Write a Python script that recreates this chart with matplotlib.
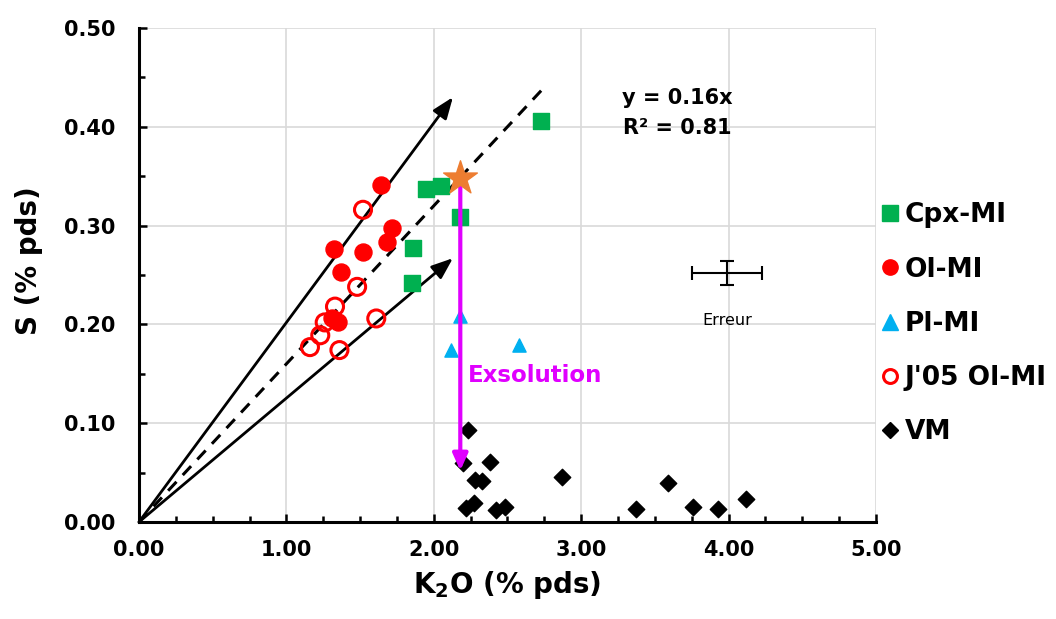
import numpy as np
import matplotlib.pyplot as plt
from matplotlib.ticker import MultipleLocator

plt.rcParams['font.family'] = ['DejaVu Sans']
plt.rcParams['font.weight'] = 'bold'

# données
cpx_k2o = [2.73, 1.95, 2.05, 2.18, 1.86, 1.85]
cpx_s = [0.406, 0.337, 0.340, 0.309, 0.277, 0.242]

ol_k2o = [1.64, 1.32, 1.52, 1.72, 1.68, 1.37, 1.35, 1.31]
ol_s = [0.341, 0.276, 0.273, 0.298, 0.283, 0.253, 0.202, 0.206]

pl_k2o = [2.18, 2.12, 2.58]
pl_s = [0.208, 0.174, 0.179]

j05_k2o = [1.52, 1.48, 1.61, 1.16, 1.36, 1.33, 1.26, 1.23]
j05_s = [0.316, 0.238, 0.206, 0.177, 0.174, 0.218, 0.202, 0.189]

vm_k2o = [2.23, 2.20, 2.38, 2.28, 2.33, 2.87, 2.22, 2.27, 2.42, 2.48, 3.37, 3.59, 3.76, 3.93, 4.12]
vm_s = [0.093, 0.060, 0.061, 0.043, 0.041, 0.046, 0.014, 0.019, 0.012, 0.015, 0.013, 0.039, 0.015, 0.013, 0.023]

star = (2.18, 0.348)
pente = 0.16
fleche_haut = (2.13, 0.430)
fleche_bas = (2.13, 0.267)
exsol_fin = 0.052
erreur = (3.99, 0.252, 0.24, 0.012)

fig = plt.figure(figsize=(10.56, 6.19), dpi=100)
ax = fig.add_axes([0.1316, 0.1567, 0.6979, 0.7981])

# tendance et flèches
xs = np.array([0, 2.73])
ax.plot(xs, pente * xs, ls=(0, (4, 3)), color='black', lw=2.2, zorder=2)
for p in [fleche_haut, fleche_bas]:
    ax.annotate('', xy=p, xytext=(0, 0),
                arrowprops=dict(arrowstyle='-|>,head_length=1.3,head_width=0.5', color='black', lw=2,
                                shrinkA=0, shrinkB=0), zorder=2)

ax.scatter(cpx_k2o, cpx_s, marker='s', s=120, color='#00B050', zorder=3)
ax.scatter(ol_k2o, ol_s, marker='o', s=150, color='#FF0000', zorder=3)
ax.scatter(pl_k2o, pl_s, marker='^', s=90, color='#00B0F0', zorder=3)
ax.scatter(j05_k2o, j05_s, marker='o', s=150, facecolor='none', edgecolor='#FF0000', linewidths=2.2, zorder=3)
ax.scatter(vm_k2o, vm_s, marker='D', s=70, color='black', zorder=3)

# exsolution
ax.annotate('', xy=(star[0], exsol_fin), xytext=star,
            arrowprops=dict(arrowstyle='-|>,head_length=1.0,head_width=0.45', color='#E000FF', lw=3,
                            shrinkA=0, shrinkB=0), zorder=4)
ax.scatter([star[0]], [star[1]], marker='*', s=650, color='#ED7D31', zorder=5)
ax.text(2.23, 0.148, 'Exsolution', color='#E000FF', fontsize=16.5, fontweight='bold', va='center')

# barre d'erreur
ax.errorbar([erreur[0]], [erreur[1]], xerr=erreur[2], yerr=erreur[3], color='black', lw=1.5,
            capsize=5, capthick=1.5, zorder=3)
ax.text(erreur[0], 0.204, 'Erreur', fontsize=11.5, fontweight='normal', ha='center', va='center')

ax.text(3.65, 0.429, 'y = 0.16x', fontsize=15, fontweight='bold', ha='center', va='center')
ax.text(3.65, 0.399, 'R² = 0.81', fontsize=15, fontweight='bold', ha='center', va='center')

ax.set_xlim(0, 5)
ax.set_ylim(0, 0.5)
ax.xaxis.set_major_locator(MultipleLocator(1))
ax.xaxis.set_minor_locator(MultipleLocator(0.25))
ax.yaxis.set_major_locator(MultipleLocator(0.1))
ax.yaxis.set_minor_locator(MultipleLocator(0.05))
ax.xaxis.set_major_formatter(lambda v, p: f'{v:.2f}')
ax.yaxis.set_major_formatter(lambda v, p: f'{v:.2f}')
ax.tick_params(which='both', direction='in', width=1.8)
ax.tick_params(which='major', length=6, labelsize=15)
ax.tick_params(axis='x', which='major', pad=13)
ax.tick_params(axis='y', which='major', pad=17)
ax.tick_params(which='minor', length=4)
for l in ax.get_xticklabels() + ax.get_yticklabels():
    l.set_fontweight('bold')
ax.grid(True, which='major', color='#D9D9D9', lw=1.2)
ax.set_axisbelow(True)
for s in ['top', 'right']:
    ax.spines[s].set_visible(False)
for s in ['left', 'bottom']:
    ax.spines[s].set_linewidth(2.2)

ax.set_xlabel('K$_\\mathbf{2}$O (% pds)', fontsize=20, fontweight='bold')
ax.set_ylabel('S (% pds)', fontsize=20, fontweight='bold')
ax.xaxis.set_label_coords(0.5, -0.095)
ax.yaxis.set_label_coords(-0.130, 0.53)

# légende
noms = ['Cpx-MI', 'Ol-MI', 'Pl-MI', "J'05 Ol-MI", 'VM']
h = [
    plt.Line2D([], [], marker='s', ls='', color='#00B050', ms=11),
    plt.Line2D([], [], marker='o', ls='', color='#FF0000', ms=11),
    plt.Line2D([], [], marker='^', ls='', color='#00B0F0', ms=11),
    plt.Line2D([], [], marker='o', ls='', mfc='none', mec='#FF0000', mew=2.2, ms=10),
    plt.Line2D([], [], marker='D', ls='', color='black', ms=8),
]
fig.legend(h, noms, loc='upper left', bbox_to_anchor=(0.822, 0.69), frameon=False,
           prop={'size': 19, 'weight': 'bold'}, handletextpad=0.1, labelspacing=1.07,
           handlelength=0.9, borderaxespad=0)

fig.savefig('out.png', dpi=100)
